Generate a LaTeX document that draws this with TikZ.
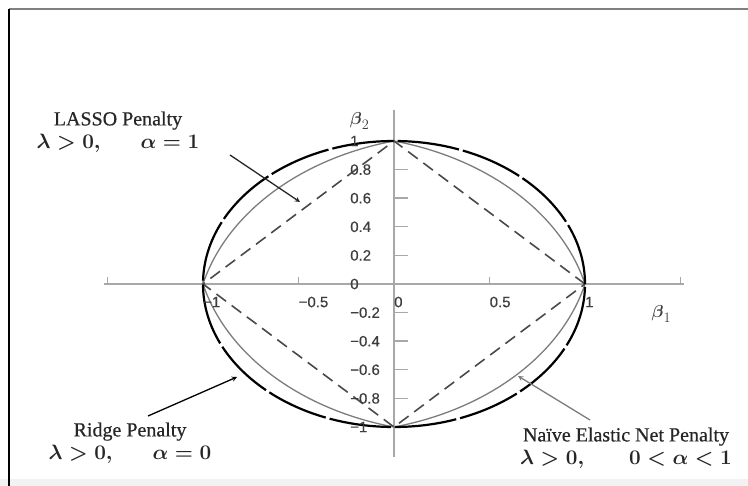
\documentclass[tikz,border=0pt]{standalone}
\usepackage{amsmath}
\usepackage{fontspec}
\setmainfont{Liberation Serif}[FakeBold=0.5]
\newfontfamily\tickfont{Liberation Sans}[FakeBold=0.4]
\usetikzlibrary{arrows,calc,positioning}

\definecolor{axisgray}{HTML}{A8A8A8}
\definecolor{txtgray}{HTML}{262626}
\definecolor{tickgray}{HTML}{3E3E3E}
\definecolor{enetgray}{HTML}{7C7C7C}
\definecolor{lassogray}{HTML}{4A4A4A}

\newcommand{\penmath}[1]{{\fontsize{21}{21}\selectfont\boldmath#1}}

\tikzset{
  axisline/.style={axisgray,line width=1.4pt},
  ticklab/.style={font=\tickfont\fontsize{15}{15}\selectfont,text=tickgray,inner sep=0pt,anchor=west},
  penlab/.style={font=\fontsize{20}{23}\selectfont,text=txtgray,align=center,inner sep=0pt},
  ridgeline/.style={black,line width=2.2pt,dash pattern=on 62pt off 4pt},
  lassoline/.style={lassogray,line width=1.6pt,dash pattern=on 12pt off 7pt},
  enetline/.style={enetgray,line width=1.3pt},
  ptr/.style={-stealth,line width=1.3pt,draw=txtgray},
  declare function={enr(\t)=(-0.4*(abs(cos(\t))+abs(sin(\t)))+sqrt(0.16*(abs(cos(\t))+abs(sin(\t)))^2+2.4))/1.2;}
}

\begin{document}
\begin{tikzpicture}[x=1pt,y=-1pt]
    \useasboundingbox (0,0) rectangle (748,486);
    % page frame
    \fill[black!5] (0,479) rectangle (748,486);
    \draw[gray,line width=2pt] (9,9) -- (748,9);
    \draw[black,line width=1.5pt] (9,9) -- (9,486);

    \begin{scope}[shift={(394,284)},x=191pt,y=143pt]
        % axes
        \draw[axisline] (-1.52,0) -- (1.52,0);
        \draw[axisline] (0,-1.21) -- (0,1.22);
        \foreach \t in {-1.5,-1,-0.5,0.5,1,1.5}
            \draw[axisline] (\t,0) -- ++(0,0.05);
        \foreach \t in {-0.8,-0.6,-0.4,-0.2,0.2,0.4,0.6,0.8}
            \draw[axisline] (0,\t) -- ++(0.075,0);

        % penalty contours
        \draw[enetline] plot[domain=0:360,samples=361] ({enr(\x)*cos(\x)},{enr(\x)*sin(\x)}) -- cycle;
        \draw[lassoline] (1,0) -- (0,1) -- (-1,0) -- (0,-1) -- cycle;
        \draw[ridgeline] (0,0) circle[radius=1];

        % tick labels
        \foreach \t/\s [count=\i] in {-1/−1,-0.5/−0.5,0/0,0.5/0.5,1/1}
            \node[ticklab] (xl\i) at (\t,-0.126) {\s};
        \foreach \t/\s [count=\i] in {1/1,0.8/0.8,0.6/0.6,0.4/0.4,0.2/0.2,0/0,-0.2/−0.2,-0.4/−0.4,-0.6/−0.6,-0.8/−0.8,-1/−1}
            \node[ticklab] (yl\i) at (-0.23,\t) {\s};

        \node[text=tickgray,font=\fontsize{19}{19}\selectfont] (b2) at (-0.18,1.14) {$\boldsymbol{\beta}_2$};
        \node[text=tickgray,font=\fontsize{19}{19}\selectfont] (b1) at (1.40,-0.21) {$\boldsymbol{\beta}_1$};
    \end{scope}

    % labels
    \node[penlab] (lasso) at (118,132) {LASSO Penalty\\\penmath{$\lambda>0,$\hspace{40pt}$\alpha=1$}};
    \node[penlab] (ridge) at (130,443) {Ridge Penalty\\\penmath{$\lambda>0,$\hspace{40pt}$\alpha=0$}};
    \node[penlab] (enet) at (626,448) {Naïve Elastic Net Penalty\\\penmath{$\lambda>0,$\hspace{45pt}$0<\alpha<1$}};

    \coordinate (lassotail) at (230,155);
    \coordinate (lassotip) at (300,202);
    \coordinate (ridgetail) at (148,416);
    \coordinate (ridgetip) at (237,377);
    \coordinate (enettail) at (590,420);
    \coordinate (enettip) at (518,376);

    \draw[ptr] (lassotail) -- (lassotip);
    \draw[ptr,draw=black] (ridgetail) -- (ridgetip);
    \draw[ptr,draw=enetgray] (enettail) -- (enettip);
\end{tikzpicture}
\end{document}
